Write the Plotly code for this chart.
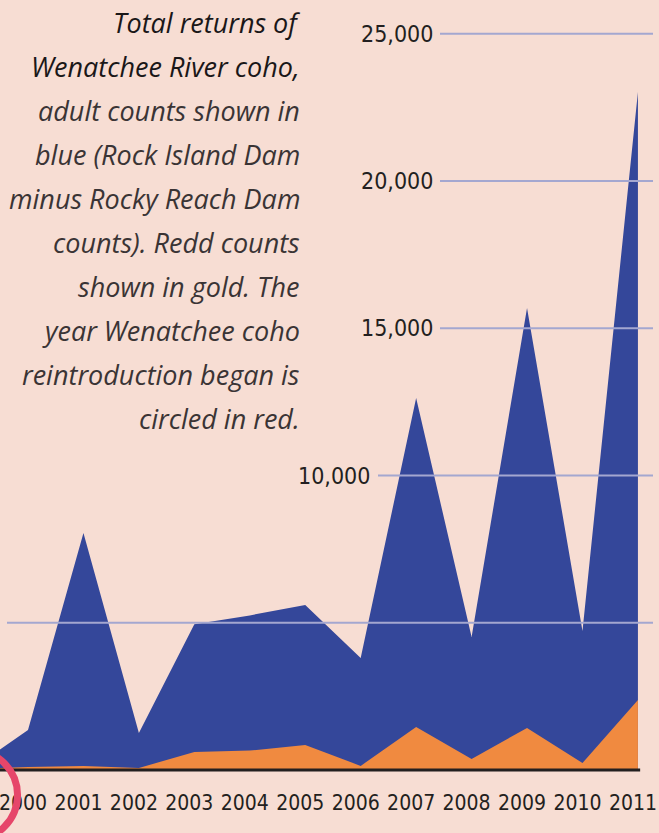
import plotly.graph_objects as go

# Wenatchee River coho: adult returns (blue) and redd counts (gold)
years = [1999, 2000, 2001, 2002, 2003, 2004, 2005, 2006, 2007, 2008, 2009, 2010, 2011]
adult_counts = [50, 1360, 8050, 1260, 4950, 5250, 5600, 3800, 12630, 4520, 15690, 4720, 23020]
redd_counts = [30, 100, 140, 70, 610, 660, 850, 140, 1460, 370, 1430, 240, 2380]

tick_years = years[1:]
tick_labels = [str(y) for y in tick_years]

grid_values = [5000, 10000, 15000, 20000, 25000]
grid_labels = ["", "10,000", "15,000", "20,000", "25,000"]

reintro_year = 1999

caption_lines = [
    "Total returns of",
    "Wenatchee River coho,",
    "adult counts shown in",
    "blue (Rock Island Dam",
    "minus Rocky Reach Dam",
    "counts). Redd counts",
    "shown in gold. The",
    "year Wenatchee coho",
    "reintroduction began is",
    "circled in red.",
]

BG = "#f7ddd3"
BLUE = "#34479a"
GOLD = "#f08a40"
GRID = "#a4a7d0"
INK = "#231f20"
W, H = 659, 833
NARROW = "Noto Sans Condensed, DejaVu Sans Condensed, sans-serif"

fig = go.Figure()
fig.add_trace(go.Scatter(x=years, y=adult_counts, mode="lines", fill="tozeroy",
                         fillcolor=BLUE, line=dict(width=0, color=BLUE), hoverinfo="skip"))
fig.add_trace(go.Scatter(x=years, y=redd_counts, mode="lines", fill="tozeroy",
                         fillcolor=GOLD, line=dict(width=0, color=GOLD), hoverinfo="skip"))

# gridlines sit on top of the areas, each starting just right of its label
grid_start_px = [7, 378, 440, 440, 440]
label_right_px = [0, 372, 435, 435, 435]
for val, lab, gx, lx in zip(grid_values, grid_labels, grid_start_px, label_right_px):
    fig.add_shape(type="line", xref="paper", yref="y", x0=gx / W, x1=653 / W,
                  y0=val, y1=val, line=dict(color=GRID, width=2), layer="above")
    if lab:
        fig.add_annotation(xref="paper", yref="y", x=lx / W, y=val, text=lab,
                           showarrow=False, xanchor="right", yanchor="middle",
                           font=dict(family=NARROW, size=23, color=INK))

# baseline
fig.add_shape(type="line", xref="x", yref="paper", x0=years[0], x1=years[-1] + 0.04,
              y0=0, y1=0, line=dict(color=INK, width=3), layer="above")

# red circle around the reintroduction year
fig.add_shape(type="circle", xref="x", yref="paper", xsizemode="pixel", ysizemode="pixel",
              xanchor=reintro_year, yanchor=0, x0=-45, x1=45, y0=-70, y1=20,
              line=dict(color="#e6466a", width=7), layer="above")

# caption
for i, line in enumerate(caption_lines):
    fig.add_annotation(xref="paper", yref="paper", x=302 / W, y=1, yshift=-2 - i * 44,
                       text=f"<i>{line}</i>", showarrow=False, xanchor="right", yanchor="top",
                       font=dict(family="Open Sans, Noto Sans, sans-serif", size=27,
                                 color="#1a1718" if i < 2 else "#3a3435"))

fig.update_xaxes(range=[1999.495, 2011.38], tickvals=tick_years, ticktext=tick_labels,
                 showgrid=False, zeroline=False, showline=False, ticks="",
                 ticklabelstandoff=18, ticklabelshift=-5, ticklabeloverflow="allow",
                 tickfont=dict(family=NARROW, size=21, color=INK))
fig.update_yaxes(range=[0, 26146], showgrid=False, zeroline=False, showticklabels=False,
                 showline=False, ticks="")
fig.update_layout(width=W, height=H, margin=dict(l=0, r=0, t=0, b=63),
                  paper_bgcolor=BG, plot_bgcolor=BG, showlegend=False)

fig.write_html("out.html", config={"displayModeBar": False},
               post_script=f"document.body.style.margin='0';"
                           f"document.body.style.background='{BG}';")
